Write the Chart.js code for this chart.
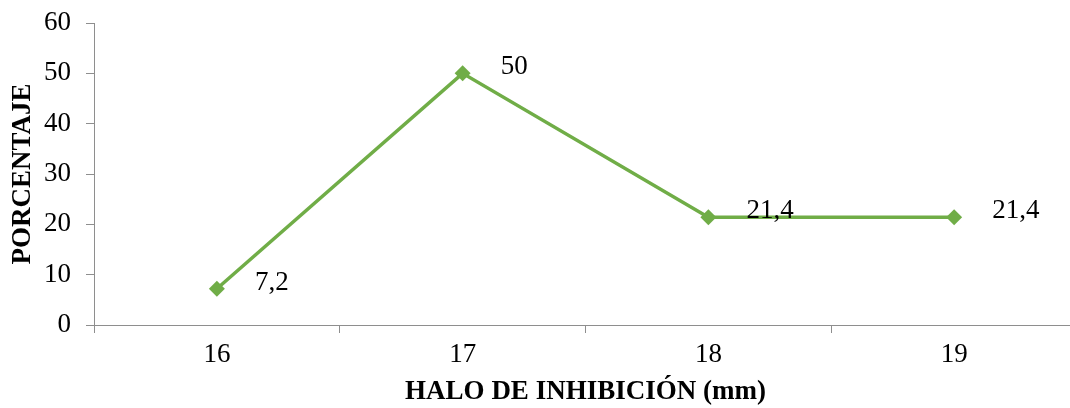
<!DOCTYPE html>
<html>
<head>
<meta charset="utf-8">
<script src="https://cdn.jsdelivr.net/npm/chart.js@4/dist/chart.umd.min.js"></script>
<style>
  html, body { margin: 0; padding: 0; background: #fff; overflow: hidden; }
  #wrap { width: 1070px; height: 408px; overflow: hidden; }
</style>
</head>
<body>
<div id="wrap"><canvas id="chart" width="1085" height="408"></canvas></div>
<script>
// ── Data ──────────────────────────────────────────────────────
const halo       = ['16', '17', '18', '19'];
const porcentaje = [7.2, 50, 21.4, 21.4];
const etiquetas  = ['7,2', '50', '21,4', '21,4'];

const FONT  = '"Liberation Serif", "Times New Roman", serif';
const GREEN = '#70AD47';
const AXIS  = '#8E8E8E';

// data labels drawn to the right of each point
const valueLabels = {
  id: 'valueLabels',
  afterDatasetsDraw(chart) {
    const { ctx } = chart;
    const meta = chart.getDatasetMeta(0);
    ctx.save();
    ctx.font = '27px ' + FONT;
    ctx.fillStyle = '#000';
    ctx.textAlign = 'left';
    ctx.textBaseline = 'middle';
    meta.data.forEach((pt, i) => {
      ctx.fillText(etiquetas[i], pt.x + 38, pt.y - 6);
    });
    ctx.restore();
  },
};

new Chart(document.getElementById('chart'), {
  type: 'line',
  plugins: [valueLabels],
  data: {
    labels: halo,
    datasets: [{
      data: porcentaje,
      borderColor: GREEN,
      backgroundColor: GREEN,
      borderWidth: 3.5,
      tension: 0,
      pointStyle: 'rectRot',
      pointRadius: 8,
      pointBorderWidth: 0,
      pointBackgroundColor: GREEN,
    }],
  },
  options: {
    responsive: false,
    animation: false,
    layout: { padding: { top: 23, right: 0, left: 0, bottom: 0 } },
    plugins: { legend: { display: false }, tooltip: { enabled: false } },
    scales: {
      x: {
        offset: true,
        grid: { offset: true, drawOnChartArea: false, drawTicks: true, tickLength: 8, color: AXIS },
        border: { color: AXIS, width: 1 },
        ticks: { color: '#000', font: { family: FONT, size: 27 }, padding: 6, maxRotation: 0 },
        title: {
          display: true,
          text: 'HALO DE INHIBICIÓN (mm)',
          color: '#000',
          font: { family: FONT, size: 27, weight: 'bold' },
          padding: 0,
        },
        afterFit(scale) { scale.height = 83; },
      },
      y: {
        min: 0,
        max: 60,
        ticks: { stepSize: 10, color: '#000', font: { family: FONT, size: 27 }, padding: 15 },
        grid: { drawOnChartArea: false, drawTicks: true, tickLength: 8, color: AXIS },
        border: { color: AXIS, width: 1 },
        title: {
          display: true,
          text: 'PORCENTAJE',
          color: '#000',
          font: { family: FONT, size: 27, weight: 'bold' },
          padding: { top: 7, bottom: 0 },
        },
        afterFit(scale) {
          scale.width = 94;
          scale.paddingTop = 0;
          scale.paddingBottom = 0;
        },
      },
    },
  },
});
</script>
</body>
</html>
